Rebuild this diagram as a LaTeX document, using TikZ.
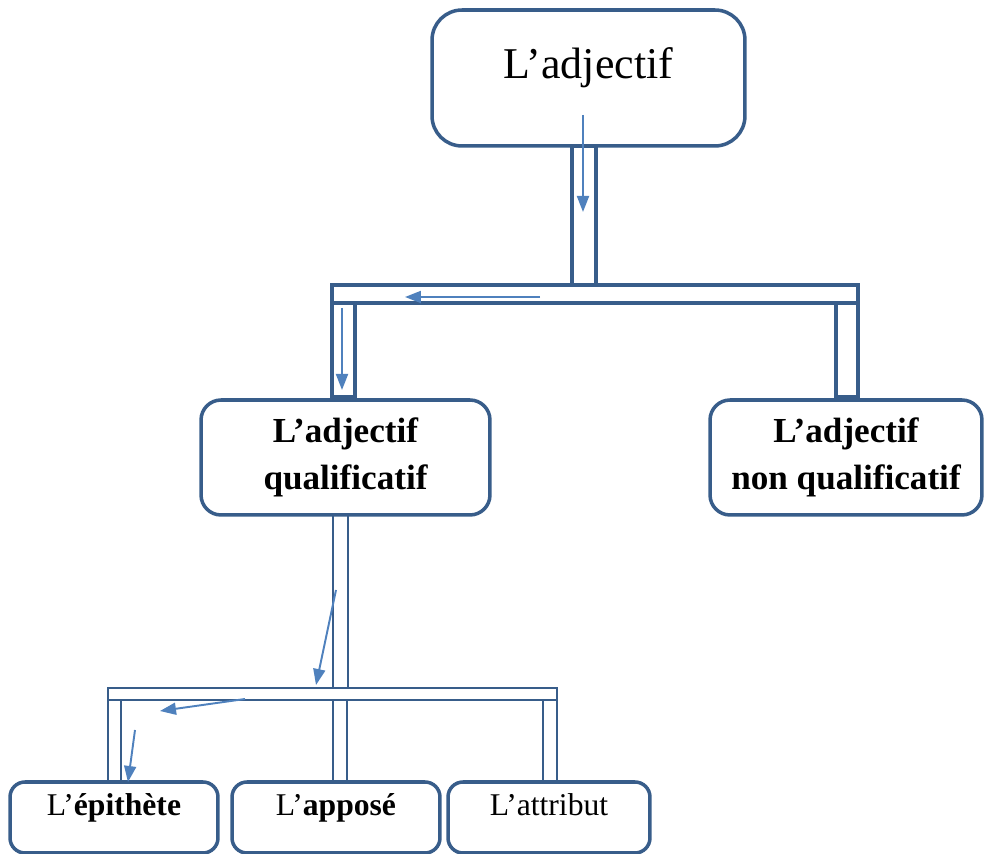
\documentclass[tikz,border=0pt]{standalone}
\usepackage{fontspec}
\setmainfont{Liberation Serif}
\usepackage{tikz}
\usetikzlibrary{arrows.meta}
\definecolor{boxblue}{HTML}{385D8A}
\definecolor{arrowblue}{HTML}{4F81BD}

\begin{document}
\begin{tikzpicture}[x=0.02cm,y=-0.02cm,
  >={Triangle[length=3.2mm,width=2.4mm]},
  main node/.style={draw=boxblue,line width=2pt,fill=white,align=center},
  pipe/.style={draw=boxblue,line width=1.9pt},
  thin pipe/.style={draw=boxblue,line width=1.6pt},
  flow/.style={->,color=arrowblue,line width=1.1pt}]

  \useasboundingbox (0,0) rectangle (985,854);

  % pipes
  \draw[pipe] (572,146) rectangle (596,285);
  \draw[pipe] (332,285) rectangle (858,303);
  \draw[pipe] (332,303) rectangle (355,397);
  \draw[pipe] (836,303) rectangle (858,397);
  \draw[thin pipe] (333,515) rectangle (348,688);
  \draw[thin pipe] (108,688) rectangle (557,700);
  \draw[thin pipe] (108,700) rectangle (121,782);
  \draw[thin pipe] (333,700) rectangle (347,782);
  \draw[thin pipe] (543,700) rectangle (557,782);

  \node[main node,rounded corners=0.6cm,minimum width=6.26cm,minimum height=2.72cm,
    text depth=0.6cm,font=\fontsize{25}{29}\selectfont] (101) at (588.5,78)
    {L’adjectif};
  \node[main node,rounded corners=0.4cm,minimum width=5.78cm,minimum height=2.3cm,
    font=\fontsize{20}{27}\selectfont\bfseries] (102) at (345.5,457.5)
    {L’adjectif\\qualificatif};
  \node[main node,rounded corners=0.4cm,minimum width=5.44cm,minimum height=2.3cm,
    font=\fontsize{20}{27}\selectfont\bfseries] (103) at (846,457.5)
    {L’adjectif\\non qualificatif};
  \node[main node,rounded corners=0.3cm,minimum width=4.16cm,minimum height=1.42cm,
    text depth=0.5cm,font=\fontsize{18}{21}\selectfont] (104) at (114,817.5)
    {L’\textbf{épithète}};
  \node[main node,rounded corners=0.3cm,minimum width=4.16cm,minimum height=1.42cm,
    text depth=0.5cm,font=\fontsize{18}{21}\selectfont] (105) at (336,817.5)
    {L’\textbf{apposé}};
  \node[main node,rounded corners=0.3cm,minimum width=4.04cm,minimum height=1.42cm,
    text depth=0.5cm,font=\fontsize{18}{21}\selectfont] (106) at (549,817.5)
    {L’attribut};

  \coordinate (a1) at (583,115);  \coordinate (b1) at (583,212);
  \coordinate (a2) at (540,297);  \coordinate (b2) at (405,297);
  \coordinate (a3) at (342,308);  \coordinate (b3) at (342,390);
  \coordinate (a4) at (336,590);  \coordinate (b4) at (316,685);
  \coordinate (a5) at (245,699);  \coordinate (b5) at (160,711);
  \coordinate (a6) at (135,730);  \coordinate (b6) at (128,782);

  \draw[flow] (a1) -- (b1);
  \draw[flow] (a2) -- (b2);
  \draw[flow] (a3) -- (b3);
  \draw[flow] (a4) -- (b4);
  \draw[flow] (a5) -- (b5);
  \draw[flow] (a6) -- (b6);

\end{tikzpicture}
\end{document}
